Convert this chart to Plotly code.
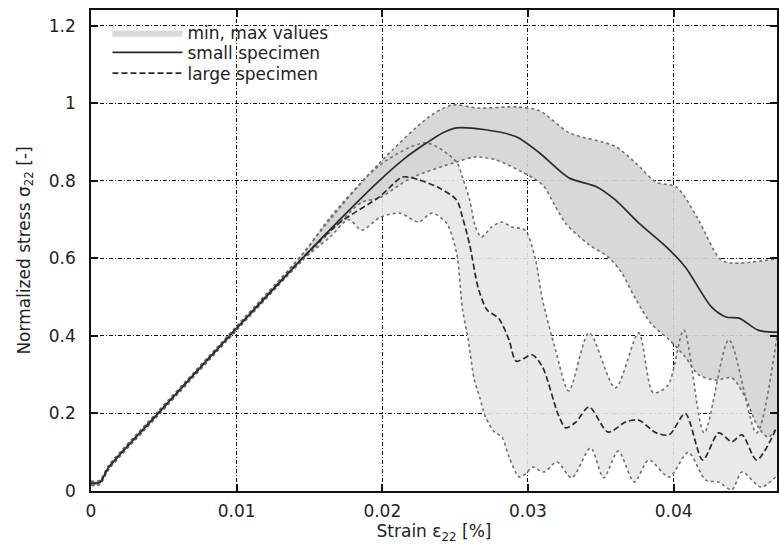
import plotly.graph_objects as go

# ---------------- data ----------------
small_mean_x = [0, 0.0006, 0.0012, 0.0046, 0.010, 0.0145, 0.018, 0.0198, 0.0215, 0.023, 0.0242, 0.0251,
                0.0271, 0.0292, 0.0308, 0.0328, 0.0347, 0.036, 0.0376, 0.0395, 0.0408, 0.0426, 0.0436,
                0.0445, 0.0458, 0.0471]
small_mean_y = [0.02, 0.022, 0.06, 0.2, 0.42, 0.6, 0.735, 0.801, 0.857, 0.897, 0.925, 0.937,
                0.932, 0.914, 0.872, 0.808, 0.785, 0.751, 0.692, 0.63, 0.578, 0.475, 0.449,
                0.446, 0.415, 0.41]

large_mean_x = [0, 0.0006, 0.0012, 0.0046, 0.010, 0.0145, 0.017, 0.0198, 0.0214, 0.0225, 0.0239, 0.0251,
                0.0255, 0.026, 0.0266, 0.0272, 0.028, 0.0287, 0.0292, 0.0303, 0.031, 0.0321, 0.0326,
                0.0333, 0.0342, 0.0355, 0.0367, 0.0376, 0.0388, 0.0397, 0.0408, 0.042, 0.0431, 0.044,
                0.0447, 0.0457, 0.0471]
large_mean_y = [0.02, 0.022, 0.06, 0.2, 0.42, 0.6, 0.69, 0.759, 0.81, 0.803, 0.782, 0.751,
                0.707, 0.635, 0.522, 0.467, 0.445, 0.39, 0.335, 0.351, 0.32, 0.195, 0.163,
                0.178, 0.217, 0.152, 0.178, 0.183, 0.15, 0.145, 0.2, 0.08, 0.15, 0.127,
                0.145, 0.08, 0.165]

small_max_x = [0, 0.0006, 0.0012, 0.0046, 0.010, 0.0145, 0.0164, 0.0198, 0.0232, 0.0248, 0.0266, 0.0292,
               0.0308, 0.0328, 0.036, 0.0374, 0.0388, 0.0402, 0.0416, 0.0432, 0.044, 0.0471]
small_max_y = [0.025, 0.027, 0.065, 0.205, 0.425, 0.61, 0.705, 0.846, 0.965, 0.996, 0.988, 0.991,
               0.981, 0.925, 0.889, 0.846, 0.797, 0.784, 0.707, 0.598, 0.588, 0.599]

small_min_x = [0, 0.0006, 0.0012, 0.0046, 0.010, 0.0145, 0.017, 0.0186, 0.0198, 0.022, 0.0251, 0.0264,
               0.0278, 0.0296, 0.031, 0.0318, 0.0326, 0.0342, 0.0355, 0.0364, 0.0374, 0.0385, 0.0397,
               0.0408, 0.0417, 0.0429, 0.044, 0.0449, 0.0458, 0.0465, 0.0471]
small_min_y = [0.015, 0.017, 0.055, 0.195, 0.415, 0.595, 0.69, 0.745, 0.756, 0.808, 0.849, 0.862,
               0.854, 0.823, 0.79, 0.74, 0.69, 0.635, 0.604, 0.565, 0.495, 0.43, 0.39,
               0.346, 0.3, 0.286, 0.292, 0.243, 0.165, 0.139, 0.165]

large_max_x = [0, 0.0006, 0.0012, 0.0046, 0.010, 0.0145, 0.0164, 0.0198, 0.023, 0.0251, 0.0255, 0.026,
               0.0264, 0.0268, 0.0275, 0.0282, 0.0289, 0.0298, 0.0305, 0.031, 0.0319, 0.0328, 0.0342,
               0.036, 0.0376, 0.0386, 0.0396, 0.0407, 0.0421, 0.0438, 0.0457, 0.0471]
large_max_y = [0.025, 0.027, 0.065, 0.205, 0.425, 0.61, 0.7, 0.84, 0.898, 0.849, 0.81, 0.751,
               0.681, 0.655, 0.681, 0.694, 0.681, 0.673, 0.6, 0.493, 0.364, 0.258, 0.408,
               0.266, 0.408, 0.254, 0.272, 0.415, 0.15, 0.39, 0.15, 0.4]

large_min_x = [0, 0.0006, 0.0012, 0.0046, 0.010, 0.0145, 0.0164, 0.0177, 0.0186, 0.0198, 0.0212, 0.0225,
               0.0234, 0.0244, 0.0251, 0.0255, 0.0259, 0.0263, 0.0267, 0.0271, 0.0277, 0.0282, 0.0287,
               0.0294, 0.0299, 0.0303, 0.0311, 0.032, 0.033, 0.0343, 0.0352, 0.0362, 0.0373, 0.0383,
               0.0397, 0.041, 0.0422, 0.0431, 0.044, 0.0447, 0.046, 0.0471]
large_min_y = [0.015, 0.017, 0.055, 0.195, 0.415, 0.595, 0.655, 0.7, 0.673, 0.705, 0.717, 0.694,
               0.717, 0.692, 0.614, 0.47, 0.39, 0.29, 0.24, 0.19, 0.152, 0.14, 0.088,
               0.036, 0.046, 0.062, 0.049, 0.075, 0.034, 0.111, 0.034, 0.103, 0.023, 0.08,
               0.036, 0.1, 0.028, 0.023, 0.003, 0.049, 0.01, 0.04]

x_ticks = [0, 0.01, 0.02, 0.03, 0.04]
x_ticktext = ["0", "0.01", "0.02", "0.03", "0.04"]
y_ticks = [0, 0.2, 0.4, 0.6, 0.8, 1.0, 1.2]
y_ticktext = ["0", "0.2", "0.4", "0.6", "0.8", "1", "1.2"]

# ---------------- figure ----------------
FONT = "DejaVu Sans"
TXT = "#222222"
fig = go.Figure()

LARGE_FILL = "rgba(231,231,231,0.9)"
SMALL_FILL = "rgba(212,212,212,0.9)"
SPL = dict(shape="spline", smoothing=0.8)
EDGE = dict(color="#707070", width=1.6, dash="dot", **SPL)

# large band fill
fig.add_trace(go.Scatter(x=large_min_x, y=large_min_y, mode="lines", line=dict(width=0, **SPL),
                         showlegend=False, hoverinfo="skip"))
fig.add_trace(go.Scatter(x=large_max_x, y=large_max_y, mode="lines", fill="tonexty",
                         fillcolor=LARGE_FILL, line=dict(width=0, **SPL),
                         showlegend=False, hoverinfo="skip"))
# small band fill (legend entry)
fig.add_trace(go.Scatter(x=small_min_x, y=small_min_y, mode="lines", line=dict(width=0, **SPL),
                         showlegend=False, hoverinfo="skip"))
fig.add_trace(go.Scatter(x=small_max_x, y=small_max_y, mode="lines", fill="tonexty",
                         fillcolor=SMALL_FILL, line=dict(width=0, **SPL),
                         name="min, max values", showlegend=True, legend="legend", hoverinfo="skip"))

# band edges
for xs, ys in [(large_min_x, large_min_y), (large_max_x, large_max_y),
               (small_min_x, small_min_y), (small_max_x, small_max_y)]:
    fig.add_trace(go.Scatter(x=xs, y=ys, mode="lines", line=EDGE,
                             showlegend=False, hoverinfo="skip"))

# mean curves
fig.add_trace(go.Scatter(x=small_mean_x, y=small_mean_y, mode="lines", name="small specimen",
                         legend="legend2",
                         line=dict(color="#2b2b2b", width=1.7, **SPL)))
fig.add_trace(go.Scatter(x=large_mean_x, y=large_mean_y, mode="lines", name="large specimen",
                         legend="legend3",
                         line=dict(color="#2b2b2b", width=1.7, dash="6px,3px", **SPL)))

axis_common = dict(
    showline=True, linecolor="#111111", linewidth=1.5, mirror="ticks",
    ticks="inside", ticklen=7, tickwidth=1.5, tickcolor="#111111",
    showgrid=True, gridcolor="#111111", gridwidth=1.2, griddash="4px,2px,1px,2px",
    zeroline=False, tickfont=dict(family=FONT, size=17, color=TXT),
)

fig.update_xaxes(range=[0, 0.0471], tickvals=x_ticks, ticktext=x_ticktext,
                 ticklabelstandoff=4,
                 title=dict(text="Strain ε<sub>22</sub> [%]", font=dict(family=FONT, size=17, color=TXT),
                            standoff=4),
                 **axis_common)
fig.update_yaxes(range=[0, 1.241], tickvals=y_ticks, ticktext=y_ticktext,
                 ticklabelstandoff=10,
                 title=dict(text="Normalized stress σ<sub>22</sub> [-]",
                            font=dict(family=FONT, size=17, color=TXT), standoff=14),
                 **axis_common)

leg_common = dict(x=0.024, xanchor="left", yanchor="middle", bgcolor="rgba(0,0,0,0)",
                  font=dict(family=FONT, size=17, color=TXT), itemwidth=70)

fig.update_layout(
    width=779, height=556,
    margin=dict(l=91, r=0, t=10, b=65),
    plot_bgcolor="white", paper_bgcolor="white",
    font=dict(family=FONT, size=17, color=TXT),
    legend=dict(y=0.952, **leg_common),
    legend2=dict(y=0.911, **leg_common),
    legend3=dict(y=0.868, **leg_common),
)

fig.write_html("out.html")
